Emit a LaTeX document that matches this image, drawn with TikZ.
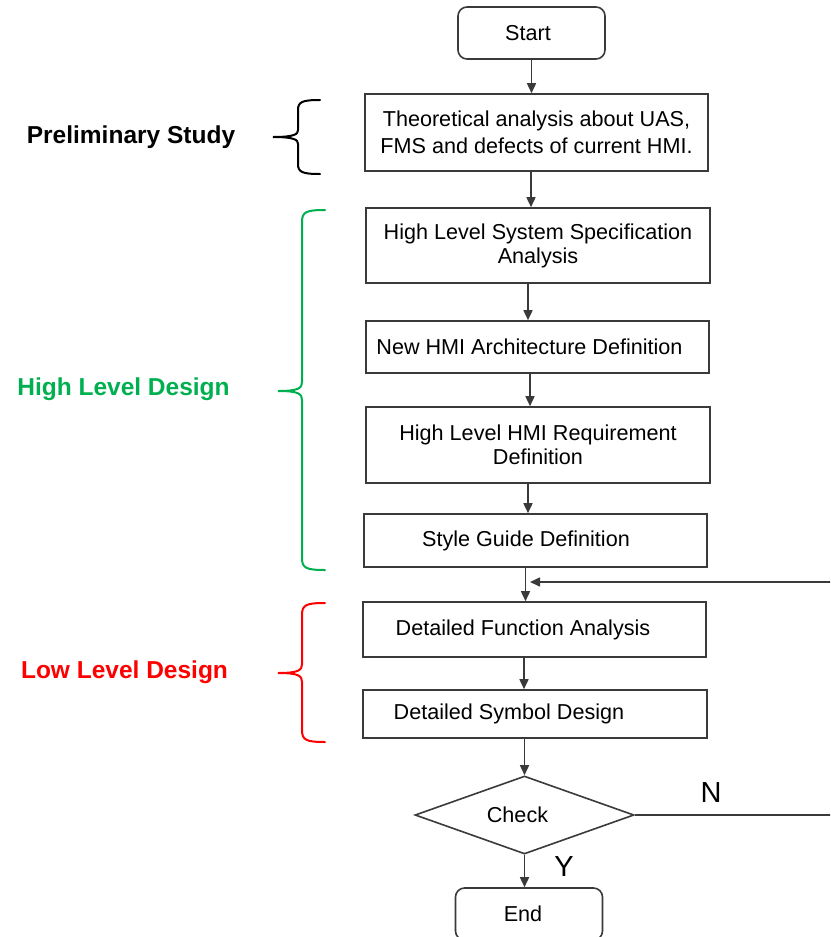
\documentclass[tikz,border=0pt]{standalone}
\usepackage{fontspec}
\setmainfont{Liberation Sans}
\usetikzlibrary{arrows.meta,shapes.geometric}
\definecolor{linegray}{HTML}{3A3A3A}
\definecolor{phasegreen}{HTML}{00B050}
\definecolor{phasered}{HTML}{FF0000}
\begin{document}
\begin{tikzpicture}[x=1pt,y=-1pt,
  every node/.style={font=\fontsize{21.6}{24}\selectfont, text=black},
  box/.style={draw=linegray, line width=1.6pt, inner sep=0pt, minimum width=343pt},
  terminal/.style={box, rounded corners=9pt, minimum width=147pt, minimum height=52pt},
  decision/.style={draw=linegray, line width=1.6pt, diamond, aspect=2.8, inner sep=0pt,
                   minimum width=219pt, minimum height=78pt},
  flow/.style={draw=linegray, line width=1.6pt, -{Triangle[length=10pt,width=9pt]}},
  brace/.style={line width=2pt, line cap=round},
  phase/.style={font=\fontsize{24.5}{28}\selectfont\bfseries},
  yn/.style={font=\fontsize{29}{32}\selectfont}]

\useasboundingbox (0,0) rectangle (830,937);
\clip (0,0) rectangle (830,937);

% main flow
\node[terminal] (start) at (531.5,33) {Start\hspace*{7pt}};
\node[box, minimum width=343pt, minimum height=77pt, align=center,
      font=\fontsize{21.6}{26.5}\selectfont] (b1) at (536.5,132.5)
  {Theoretical analysis about UAS,\\FMS and defects of current HMI.};
\node[box, minimum width=344pt, minimum height=75pt, align=center] (b2) at (538,245.5)
  {High Level System Specification\\Analysis};
\node[box, minimum width=343pt, minimum height=52pt] (b3) at (537.5,347)
  {New HMI Architecture Definition\hspace*{16pt}};
\node[box, minimum width=344pt, minimum height=76pt, align=center] (b4) at (538,445)
  {High Level HMI Requirement\\Definition};
\node[box, minimum width=343pt, minimum height=53pt] (b5) at (535.5,540.5)
  {Style Guide Definition\hspace*{19pt}};
\node[box, minimum width=343pt, minimum height=55pt] (b6) at (534.5,629.5)
  {Detailed Function Analysis\hspace*{23pt}};
\node[box, minimum width=344pt, minimum height=48pt] (b7) at (535,714)
  {Detailed Symbol Design\hspace*{52pt}};
\node[decision] (check) at (524.5,815) {Check\hspace*{14pt}};
\node[terminal] (end) at (529,914) {End\hspace*{12pt}};

% arrows between steps
\draw[flow] (start.south) -- (start.south |- b1.north);
\draw[flow] ([xshift=-5.5pt]b1.south) -- ([xshift=-5.5pt]b1.south |- b2.north);
\draw[flow] ([xshift=-10pt]b2.south) -- ([xshift=-10pt]b2.south |- b3.north);
\draw[flow] ([xshift=-7.5pt]b3.south) -- ([xshift=-7.5pt]b3.south |- b4.north);
\draw[flow] ([xshift=-10pt]b4.south) -- ([xshift=-10pt]b4.south |- b5.north);
\draw[flow] ([xshift=-10pt]b5.south) -- ([xshift=-10pt]b5.south |- b6.north);
\draw[flow] ([xshift=-10.5pt]b6.south) -- ([xshift=-10.5pt]b6.south |- b7.north);
\draw[flow] (b7.south -| check.north) -- (check.north);
\draw[flow] (check.south) -- (check.south |- end.north);

% rework loop
\coordinate (loopC) at (840,815);
\coordinate (loopR) at (840,582);
\draw[flow] (check.east) -- (loopC) -- (loopR) -- ([xshift=-4.5pt]loopR -| b6.north);
\node[yn] (no) at (711,793) {N};
\node[yn] (yes) at (564,867) {Y};

% phase braces
\draw[brace, black]
  (320,100) .. controls (302,100) and (298,102) .. (298,110) -- (298,130)
  .. controls (298,134) and (295,137) .. (273,137)
  .. controls (295,137) and (298,140) .. (298,144) -- (298,164)
  .. controls (298,172) and (302,174) .. (320,174);
\draw[brace, phasegreen]
  (325,210) .. controls (306,210) and (302,212) .. (302,222) -- (302,382)
  .. controls (302,388) and (299,391) .. (278,391)
  .. controls (299,391) and (302,394) .. (302,400) -- (302,558)
  .. controls (302,568) and (306,570) .. (325,570);
\draw[brace, phasered]
  (325,603) .. controls (306,603) and (302,605) .. (302,615) -- (302,664)
  .. controls (302,670) and (299,673) .. (278,673)
  .. controls (299,673) and (302,676) .. (302,682) -- (302,730)
  .. controls (302,740) and (306,742) .. (325,742);

% phase labels
\node[phase, text=black] (prelim) at (131,137) {Preliminary Study};
\node[phase, text=phasegreen] (highlvl) at (123.5,389) {High Level Design};
\node[phase, text=phasered] (lowlvl) at (124.5,672) {Low Level Design};
\end{tikzpicture}
\end{document}
